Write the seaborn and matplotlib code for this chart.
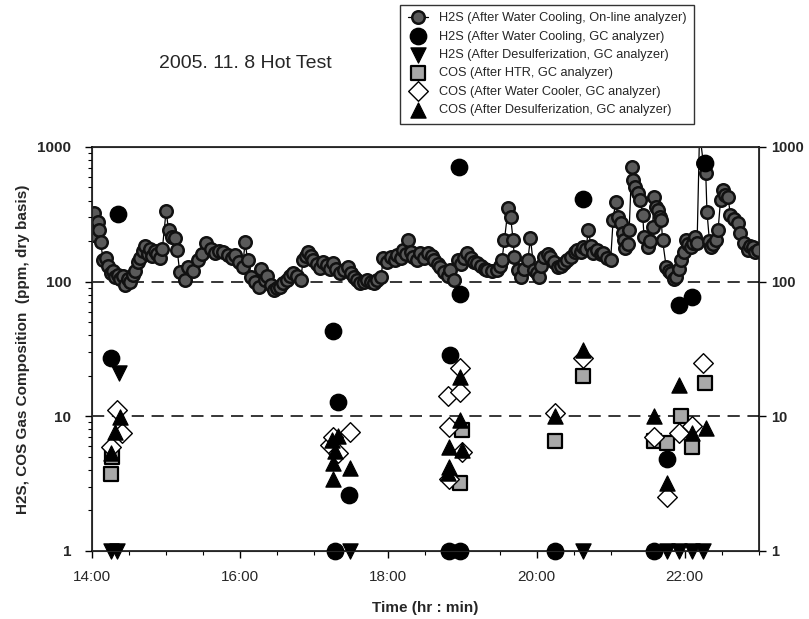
import matplotlib
matplotlib.use("Agg")
import matplotlib.pyplot as plt
import seaborn as sns
import pandas as pd
from matplotlib.ticker import FixedLocator, NullFormatter

# H2S on-line analyzer (after water cooling)
online_time = ["14:01", "14:02", "14:05", "14:06", "14:07", "14:09", "14:11", "14:13", "14:15", "14:17",
               "14:19", "14:21", "14:23", "14:25", "14:27", "14:29", "14:31", "14:33", "14:35", "14:37",
               "14:39", "14:41", "14:43", "14:45", "14:47", "14:49", "14:51", "14:53", "14:55", "14:57",
               "15:00", "15:02", "15:05", "15:07", "15:09", "15:11", "15:15", "15:18", "15:22", "15:26",
               "15:29", "15:32", "15:36", "15:40", "15:43", "15:46", "15:50", "15:53", "15:56", "15:59",
               "16:02", "16:04", "16:06", "16:09", "16:12", "16:15", "16:17", "16:20", "16:22", "16:25",
               "16:27", "16:30", "16:32", "16:35", "16:38", "16:40", "16:43", "16:46", "16:49", "16:51",
               "16:53", "16:55", "16:57", "16:59", "17:02", "17:05", "17:07", "17:10", "17:13", "17:15",
               "17:18", "17:21", "17:24", "17:27", "17:30", "17:32", "17:35", "17:37", "17:40", "17:43",
               "17:46", "17:48", "17:51", "17:54", "17:56", "17:59", "18:02", "18:05", "18:07", "18:10",
               "18:12", "18:14", "18:16", "18:18", "18:20", "18:23", "18:26", "18:29", "18:32", "18:35",
               "18:37", "18:40", "18:42", "18:45", "18:48", "18:50", "18:53", "18:56", "18:59", "19:01",
               "19:04", "19:07", "19:09", "19:12", "19:15", "19:18", "19:20", "19:24", "19:28", "19:30",
               "19:32", "19:34", "19:37", "19:39", "19:41", "19:42", "19:45", "19:47", "19:50", "19:53",
               "19:55", "19:58", "20:00", "20:02", "20:04", "20:06", "20:09", "20:11", "20:14", "20:17",
               "20:20", "20:22", "20:25", "20:28", "20:31", "20:33", "20:36", "20:38", "20:40", "20:42",
               "20:44", "20:46", "20:49", "20:52", "20:54", "20:57", "21:00", "21:02", "21:04", "21:06",
               "21:08", "21:10", "21:11", "21:12", "21:14", "21:15", "21:17", "21:18", "21:20", "21:22",
               "21:24", "21:26", "21:27", "21:30", "21:32", "21:34", "21:35", "21:37", "21:38", "21:40",
               "21:41", "21:42", "21:45", "21:47", "21:49", "21:51", "21:53", "21:55", "21:57", "21:59",
               "22:01", "22:03", "22:05", "22:07", "22:08", "22:10", "22:12", "22:15", "22:17", "22:18",
               "22:20", "22:21", "22:23", "22:25", "22:27", "22:29", "22:31", "22:33", "22:35", "22:37",
               "22:40", "22:43", "22:45", "22:48", "22:51", "22:53", "22:55", "22:57", "22:59"]
online_ppm = [222, 322, 277, 242, 197, 145, 150, 130, 115, 120,
              108, 112, 104, 110, 95, 105, 100, 112, 120, 140,
              150, 170, 185, 160, 175, 155, 170, 160, 150, 175,
              335, 242, 215, 210, 172, 118, 103, 128, 120, 145,
              160, 193, 175, 163, 170, 166, 158, 150, 158, 140,
              128, 197, 145, 109, 100, 91, 125, 103, 110, 95,
              87, 90, 91, 98, 103, 110, 116, 110, 103, 145,
              155, 166, 155, 145, 135, 126, 140, 133, 125, 137,
              125, 116, 122, 128, 115, 108, 102, 98, 100, 103,
              100, 98, 102, 108, 150, 140, 152, 145, 158, 150,
              172, 160, 204, 165, 152, 145, 163, 150, 163, 155,
              145, 135, 128, 118, 110, 122, 103, 145, 135, 150,
              163, 150, 140, 138, 130, 125, 122, 120, 122, 130,
              145, 204, 352, 302, 204, 152, 122, 108, 125, 145,
              210, 122, 115, 108, 130, 152, 160, 152, 140, 128,
              130, 138, 145, 152, 165, 172, 165, 181, 175, 242,
              185, 163, 172, 160, 163, 150, 145, 287, 391, 300,
              273, 230, 204, 178, 190, 242, 710, 569, 500, 456,
              404, 313, 215, 181, 200, 255, 425, 360, 340, 300,
              287, 204, 128, 120, 116, 105, 108, 125, 145, 165,
              204, 190, 181, 195, 215, 193, 1300, 760, 641, 329,
              200, 181, 190, 204, 242, 404, 480, 440, 425, 313,
              290, 273, 230, 193, 172, 185, 181, 165, 172]

# H2S GC analyzer (after water cooling)
h2s_gc_time = ["14:15", "14:21", "17:15", "17:17", "17:19", "17:28", "18:49", "18:50",
               "18:57", "18:58", "18:58", "20:15", "20:38", "21:35", "21:46", "21:55", "22:06", "22:16"]
h2s_gc_ppm = [27, 320, 43, 1, 12.8, 2.6, 1, 28.6,
              710, 81, 1, 1, 411, 1, 4.8, 67, 77, 760]

# H2S GC analyzer (after desulferization)
h2s_ds_time = ["14:15", "14:20", "14:22", "17:29", "20:38", "21:46", "21:55", "22:06", "22:15"]
h2s_ds_ppm = [1, 1, 21, 1, 1, 1, 1, 1, 1]

# COS after HTR
cos_htr_time = ["14:15", "14:16", "18:58", "19:00", "20:15", "20:38", "21:35", "21:46", "21:57", "22:06", "22:16"]
cos_htr_ppm = [3.7, 5.0, 3.2, 7.9, 6.6, 20, 6.5, 6.3, 10, 5.9, 17.7]

# COS after water cooler
cos_wc_time = ["14:15", "14:20", "14:24", "17:13", "17:15", "17:19", "17:29", "18:48", "18:49", "18:49",
               "18:58", "18:58", "19:00", "20:15", "20:38", "21:35", "21:46", "21:55", "22:06", "22:15"]
cos_wc_ppm = [5.9, 11.2, 7.5, 6.1, 7.0, 5.3, 7.7, 14.2, 8.3, 3.4,
              23, 15.2, 5.4, 10.6, 27, 7.0, 2.5, 7.5, 8.5, 24.9]

# COS after desulferization
cos_ds_time = ["14:15", "14:19", "14:23", "17:14", "17:15", "17:15", "17:17", "17:19", "17:29",
               "18:48", "18:49", "18:49", "18:58", "18:58", "19:00", "20:15", "20:38",
               "21:35", "21:46", "21:55", "22:06", "22:17"]
cos_ds_ppm = [5.3, 7.7, 9.9, 6.7, 4.5, 3.4, 5.5, 7.2, 4.1,
              3.8, 5.9, 4.2, 19.6, 9.4, 5.6, 10, 31,
              10, 3.2, 17.1, 7.5, 8.2]


def to_hours(times):
    return [int(t[:2]) + int(t[3:]) / 60 for t in times]


sns.set_style("ticks")
plt.rcParams['font.family'] = ['Liberation Sans', 'DejaVu Sans']

fig = plt.figure(figsize=(8.09, 6.19), dpi=100)
ax = fig.add_axes([0.1137, 0.1099, 0.8243, 0.6527])

ax.axhline(100, color='black', lw=1.1, ls=(0, (8, 5)), zorder=1)
ax.axhline(10, color='black', lw=1.1, ls=(0, (8, 5)), zorder=1)

df_online = pd.DataFrame({'t': to_hours(online_time), 'ppm': online_ppm})
sns.lineplot(data=df_online, x='t', y='ppm', ax=ax, estimator=None, sort=False,
             color='black', lw=0.9, marker='o', markersize=9, markerfacecolor='#5a5a5a',
             markeredgecolor='#111111', markeredgewidth=1.8,
             label='H2S (After Water Cooling, On-line analyzer)', zorder=3)

sc_kw = dict(ax=ax, clip_on=False)
sns.scatterplot(x=to_hours(h2s_gc_time), y=h2s_gc_ppm, marker='o', s=140,
                color='black', edgecolor='black', label='H2S (After Water Cooling, GC analyzer)', zorder=4, **sc_kw)
sns.scatterplot(x=to_hours(h2s_ds_time), y=h2s_ds_ppm, marker='v', s=120,
                color='black', edgecolor='black', label='H2S (After Desulferization, GC analyzer)', zorder=4, **sc_kw)
sns.scatterplot(x=to_hours(cos_htr_time), y=cos_htr_ppm, marker='s', s=90,
                color='#a8a8a8', edgecolor='black', linewidth=1.6, label='COS (After HTR, GC analyzer)', zorder=5, **sc_kw)
sns.scatterplot(x=to_hours(cos_wc_time), y=cos_wc_ppm, marker='D', s=100,
                color='white', edgecolor='black', linewidth=1.0, label='COS (After Water Cooler, GC analyzer)', zorder=5, **sc_kw)
sns.scatterplot(x=to_hours(cos_ds_time), y=cos_ds_ppm, marker='^', s=120,
                color='black', edgecolor='black', label='COS (After Desulferization, GC analyzer)', zorder=6, **sc_kw)

ax.set_yscale('log')
ax.set_ylim(1, 1000)
ax.set_xlim(14, 23)
ax.set_yticks([1, 10, 100, 1000])
ax.set_yticklabels(['1', '10', '100', '1000'], fontweight='bold', fontsize=11)
ax.yaxis.set_minor_formatter(NullFormatter())
ax.set_xticks([14, 16, 18, 20, 22])
ax.set_xticklabels(['14:00', '16:00', '18:00', '20:00', '22:00'], fontsize=11)
ax.xaxis.set_minor_locator(FixedLocator([14 + 0.5 * i for i in range(19)]))
ax.tick_params(axis='x', which='major', length=5, width=1, color='black', pad=9)
ax.tick_params(axis='y', which='major', length=5, width=1, color='black', pad=10)
ax.tick_params(axis='both', which='minor', length=3, width=0.8, color='black')
for sp in ax.spines.values():
    sp.set_color('black')
    sp.set_linewidth(1.1)

ax.set_xlabel('Time (hr : min)', fontsize=11, fontweight='bold', labelpad=12)
ax.set_ylabel('H2S, COS Gas Composition  (ppm, dry basis)', fontsize=11, fontweight='bold', labelpad=5)

ax2 = ax.twinx()
ax2.set_yscale('log')
ax2.set_ylim(1, 1000)
ax2.set_yticks([1, 10, 100, 1000])
ax2.set_yticklabels(['1', '10', '100', '1000'], fontweight='bold', fontsize=10.5)
ax2.yaxis.set_minor_formatter(NullFormatter())
ax2.tick_params(axis='y', which='major', length=5, width=1, color='black', pad=4)
ax2.tick_params(axis='y', which='minor', length=0)

handles, labels = ax.get_legend_handles_labels()
ax.get_legend().remove()
leg = fig.legend(handles, labels, loc='upper left', bbox_to_anchor=(0.487, 1.003),
                 fontsize=9.2, frameon=True, fancybox=False, edgecolor='black',
                 labelspacing=0.5, handlelength=1.6, handletextpad=0.8, borderpad=0.6)
leg.get_frame().set_linewidth(1.0)

fig.text(0.303, 0.898, '2005. 11. 8 Hot Test', fontsize=14, ha='center', va='center')

fig.savefig('out.png', dpi=100)
